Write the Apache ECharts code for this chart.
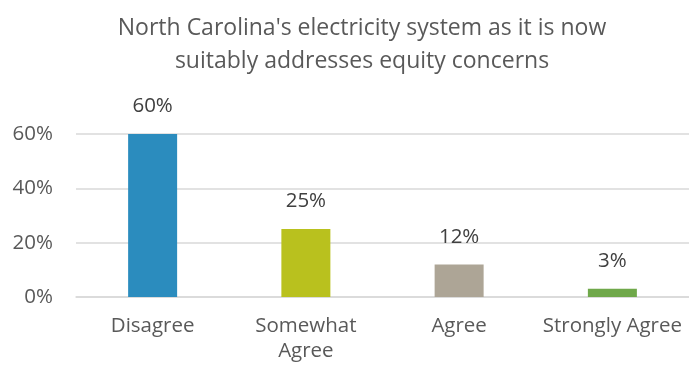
<!DOCTYPE html>
<html><head><meta charset="utf-8">
<script src="https://cdn.jsdelivr.net/npm/echarts@6/dist/echarts.min.js"></script>
<style>html,body{margin:0;padding:0;background:#fff}#c{width:689px;height:368px}</style>
</head><body><div id="c"></div>
<script>
const titleText = "North Carolina's electricity system as it is now\nsuitably addresses equity concerns";
const categories = ["Disagree", "Somewhat\nAgree", "Agree", "Strongly Agree"];
const values = [60, 25, 12, 3];
const colors = ["#2B8CBE", "#B9C11E", "#ADA596", "#6FA84A"];
const yTicks = [0, 20, 40, 60];

const FONT = "Open Sans";
const chart = echarts.init(document.getElementById('c'), null, {renderer: 'canvas'});
chart.setOption({
  animation: false,
  title: {
    text: titleText, left: 357, textAlign: 'center', top: 7,
    textStyle: {fontFamily: FONT, fontSize: 23, fontWeight: 'normal', color: '#595959', lineHeight: 33, align: 'center'}
  },
  grid: {left: 76, right: 0, top: 134, bottom: 71, containLabel: false},
  xAxis: {
    type: 'category', data: categories,
    axisLine: {show: true, lineStyle: {color: '#D9D9D9', width: 1.5}},
    axisTick: {show: false},
    axisLabel: {fontFamily: FONT, fontSize: 20.5, color: '#595959', margin: 17, lineHeight: 25, interval: 0}
  },
  yAxis: {
    type: 'value', min: 0, max: 60, interval: 20,
    axisLine: {show: false}, axisTick: {show: false},
    splitLine: {lineStyle: {color: '#D9D9D9', width: 1.5}},
    axisLabel: {fontFamily: FONT, fontSize: 20.5, color: '#595959', margin: 23, formatter: v => yTicks.includes(v) ? v + '%' : ''}
  },
  series: [{
    type: 'bar', barWidth: 49,
    data: values.map((v, i) => ({value: v, itemStyle: {color: colors[i]}})),
    label: {show: true, position: 'top', distance: 17, formatter: p => p.value + '%',
      fontFamily: FONT, fontSize: 20.5, color: '#404040'}
  }]
});
</script></body></html>
